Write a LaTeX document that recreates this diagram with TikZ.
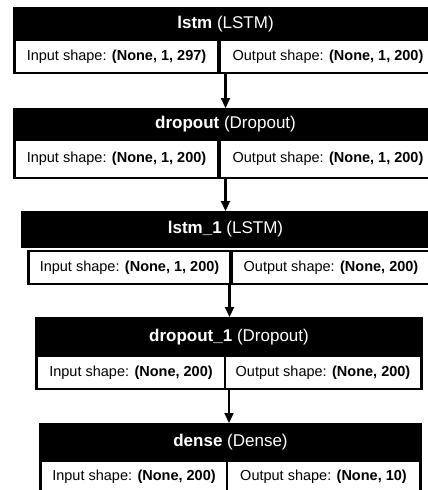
\documentclass[tikz,border=0pt]{standalone}
\usepackage{fontspec}
\setmainfont{Liberation Sans}
\usetikzlibrary{arrows.meta}
\newcommand\hdrfont{\fontsize{17}{20}\selectfont}
\newcommand\cellfont{\fontsize{14.5}{17}\selectfont}
\tikzset{
  hdr/.style={fill=black, text=white, font=\hdrfont, inner sep=0pt, outer sep=0pt, anchor=north west},
  rowframe/.style={fill=black, inner sep=0pt, outer sep=0pt, anchor=north west},
  cell/.style={fill=white, text=black, font=\cellfont, inner sep=0pt, outer sep=0pt, anchor=north west},
  arr/.style={line width=2.2pt, -{Triangle[width=9pt,length=10pt]}}
}
\begin{document}
\begin{tikzpicture}[x=1pt,y=-1pt]
\useasboundingbox (0,0) rectangle (428,490);
% block 1
\node[hdr, minimum width=425pt, minimum height=34pt] (b1) at (13,7) {\textbf{lstm} (LSTM)};
\node[rowframe, minimum width=425pt, minimum height=33pt] (f1) at (13,41) {};
\node[cell, minimum width=201pt, minimum height=31pt] (i1) at (16,41) {Input shape: \textbf{(None, 1, 297)}};
\node[cell, minimum width=214pt, minimum height=31pt] (o1) at (221,41) {Output shape: \textbf{(None, 1, 200)}};
% block 2
\node[hdr, minimum width=425pt, minimum height=33pt] (b2) at (13,108) {\textbf{dropout} (Dropout)};
\node[rowframe, minimum width=425pt, minimum height=38pt] (f2) at (13,141) {};
\node[cell, minimum width=201pt, minimum height=36pt] (i2) at (16,141) {Input shape: \textbf{(None, 1, 200)}};
\node[cell, minimum width=214pt, minimum height=36pt] (o2) at (221,141) {Output shape: \textbf{(None, 1, 200)}};
% block 3
\node[hdr, minimum width=409pt, minimum height=37pt] (b3) at (21,211) {\textbf{lstm\_1} (LSTM)};
\node[rowframe, minimum width=405pt, minimum height=35pt] (f3) at (27,250) {};
\node[cell, minimum width=199pt, minimum height=31pt] (i3) at (30,252) {Input shape: \textbf{(None, 1, 200)}};
\node[cell, minimum width=196pt, minimum height=31pt] (o3) at (233,252) {Output shape: \textbf{(None, 200)}};
% block 4
\node[hdr, minimum width=388pt, minimum height=40pt] (b4) at (35,317) {\textbf{dropout\_1} (Dropout)};
\node[rowframe, minimum width=388pt, minimum height=33pt] (f4) at (35,357) {};
\node[cell, minimum width=186pt, minimum height=31pt] (i4) at (38,357) {Input shape: \textbf{(None, 200)}};
\node[cell, minimum width=194pt, minimum height=31pt] (o4) at (226,357) {Output shape: \textbf{(None, 200)}};
% block 5
\node[hdr, minimum width=383pt, minimum height=39pt] (b5) at (39,423) {\textbf{dense} (Dense)};
\node[rowframe, minimum width=383pt, minimum height=32pt] (f5) at (39,462) {};
\node[cell, minimum width=184pt, minimum height=30pt] (i5) at (42,462) {Input shape: \textbf{(None, 200)}};
\node[cell, minimum width=191pt, minimum height=30pt] (o5) at (228,462) {Output shape: \textbf{(None, 10)}};
% arrows
\draw[arr] (f1.south) -- (f1.south |- b2.north);
\draw[arr] (f2.south) -- (f2.south |- b3.north);
\draw[arr] (f3.south) -- (f3.south |- b4.north);
\draw[arr] (f4.south) -- (f4.south |- b5.north);
\end{tikzpicture}
\end{document}
